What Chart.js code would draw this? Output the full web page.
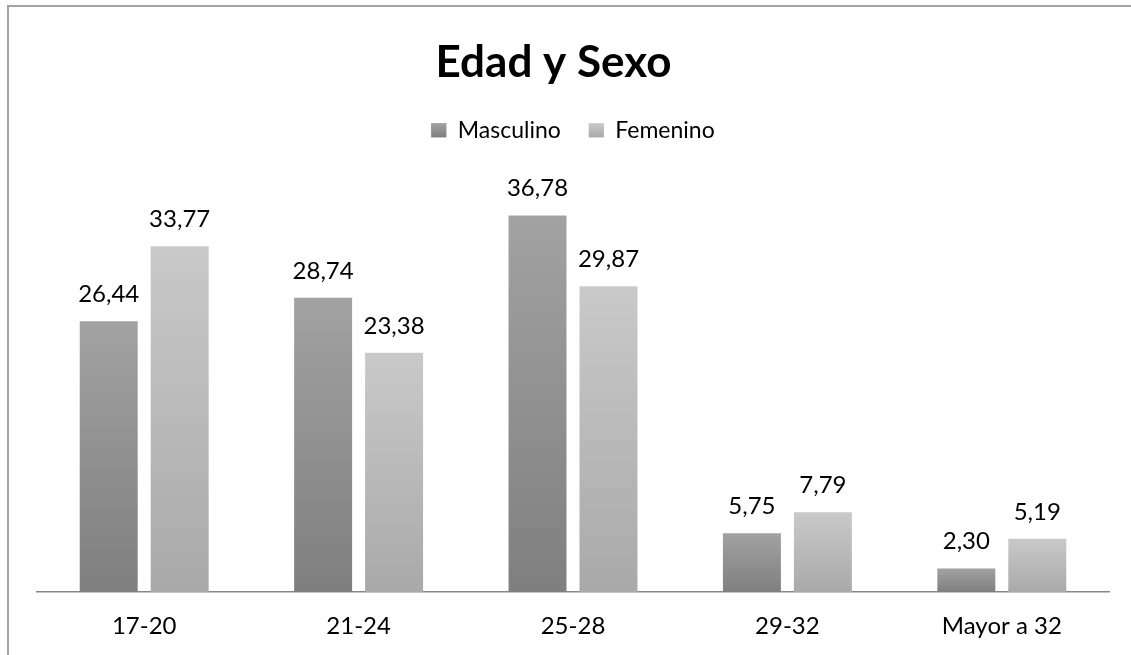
<!DOCTYPE html>
<html>
<head>
<meta charset="utf-8">
<script src="https://cdn.jsdelivr.net/npm/chart.js@4.4.0/dist/chart.umd.min.js"></script>
<style>
  html, body { margin: 0; padding: 0; background: #ffffff; }
  #wrap { width: 1131px; height: 655px; position: relative; }
</style>
</head>
<body>
<div id="wrap"><canvas id="c" width="1131" height="655"></canvas></div>
<script>
const categories = ['17-20', '21-24', '25-28', '29-32', 'Mayor a 32'];
const masculino = [26.44, 28.74, 36.78, 5.75, 2.30];
const femenino = [33.77, 23.38, 29.87, 7.79, 5.19];
const seriesNames = ['Masculino', 'Femenino'];
const chartTitle = 'Edad y Sexo';

const FONT = 'Lato, "Open Sans", "DejaVu Sans", sans-serif';
const gradStops = [
  ['#a2a2a2', '#7f7f7f'],
  ['#c9c9c9', '#a9a9a9']
];

function barGradient(i) {
  return function (context) {
    const chart = context.chart;
    if (context.type !== 'data' || !chart.chartArea) return gradStops[i][1];
    const ys = chart.scales.y;
    const top = ys.getPixelForValue(context.raw);
    const base = ys.getPixelForValue(0);
    const g = chart.ctx.createLinearGradient(0, top, 0, base);
    g.addColorStop(0, gradStops[i][0]);
    g.addColorStop(1, gradStops[i][1]);
    return g;
  };
}

function legendGradient(chart, i) {
  return gradStops[i][0];
}

const labelPlugin = {
  id: 'valueLabels',
  afterDatasetsDraw(chart) {
    const ctx = chart.ctx;
    ctx.save();
    ctx.font = '24px ' + FONT;
    ctx.fillStyle = '#000000';
    ctx.textAlign = 'center';
    ctx.textBaseline = 'alphabetic';
    chart.data.datasets.forEach((ds, i) => {
      const meta = chart.getDatasetMeta(i);
      meta.data.forEach((el, j) => {
        const txt = ds.data[j].toFixed(2).replace('.', ',');
        ctx.fillText(txt, el.x, el.y - 19);
      });
    });
    ctx.restore();
  }
};

const borderPlugin = {
  id: 'outerBorder',
  afterLayout(chart) {
    if (chart.titleBlock) {
      chart.titleBlock.left = 0;
      chart.titleBlock.right = 1107;
    }
  },
  beforeDraw(chart) {
    const ctx = chart.ctx;
    ctx.save();
    ctx.fillStyle = '#ffffff';
    ctx.fillRect(0, 0, chart.width, chart.height);
    ctx.strokeStyle = '#a3a3a3';
    ctx.lineWidth = 2;
    ctx.beginPath();
    ctx.moveTo(8, chart.height + 2);
    ctx.lineTo(8, 6);
    ctx.lineTo(chart.width + 2, 6);
    ctx.stroke();
    ctx.restore();
  }
};

const legendBoxPlugin = {
  id: 'legendBoxGradient',
  afterDraw(chart) {
    const lg = chart.legend;
    if (!lg || !lg.legendHitBoxes) return;
    const ctx = chart.ctx;
    ctx.save();
    lg.legendHitBoxes.forEach((hb, i) => {
      const bw = 15, bh = 14;
      const x = hb.left;
      const y = hb.top + (hb.height - bh) / 2;
      const g = ctx.createLinearGradient(0, y, 0, y + bh);
      g.addColorStop(0, gradStops[i][0]);
      g.addColorStop(1, gradStops[i][1]);
      ctx.fillStyle = g;
      ctx.fillRect(x, y, bw, bh);
    });
    ctx.restore();
  }
};

new Chart(document.getElementById('c'), {
  type: 'bar',
  data: {
    labels: categories,
    datasets: [
      { label: seriesNames[0], data: masculino, backgroundColor: barGradient(0), borderWidth: 0 },
      { label: seriesNames[1], data: femenino, backgroundColor: barGradient(1), borderWidth: 0 }
    ]
  },
  options: {
    responsive: false,
    animation: false,
    events: [],
    layout: { padding: { left: 37, right: 22, top: 0, bottom: 0 } },
    datasets: { bar: { categoryPercentage: 0.662, barPercentage: 0.817 } },
    scales: {
      x: {
        grid: { display: false, drawTicks: false },
        border: { display: true, color: '#878787', width: 1.5 },
        ticks: { color: '#000000', font: { family: FONT, size: 24 }, padding: 20 },
        afterFit(scale) { scale.height = 63; }
      },
      y: {
        display: false,
        min: 0,
        max: 43
      }
    },
    plugins: {
      title: {
        display: true,
        text: chartTitle,
        color: '#000000',
        font: { family: FONT, size: 44, weight: 'bold', lineHeight: 1.2 },
        padding: { top: 36, bottom: 2 }
      },
      legend: {
        display: true,
        position: 'top',
        labels: {
          color: '#000000',
          font: { family: FONT, size: 23 },
          boxWidth: 15,
          boxHeight: 14,
          padding: 28,
          generateLabels(chart) {
            return chart.data.datasets.map((ds, i) => ({
              text: ds.label,
              fillStyle: legendGradient(chart, i),
              strokeStyle: 'rgba(0,0,0,0)',
              lineWidth: 0,
              hidden: false,
              datasetIndex: i,
              fontColor: '#000000'
            }));
          }
        }
      },
      tooltip: { enabled: false }
    }
  },
  plugins: [borderPlugin, labelPlugin, legendBoxPlugin]
});
</script>
</body>
</html>
